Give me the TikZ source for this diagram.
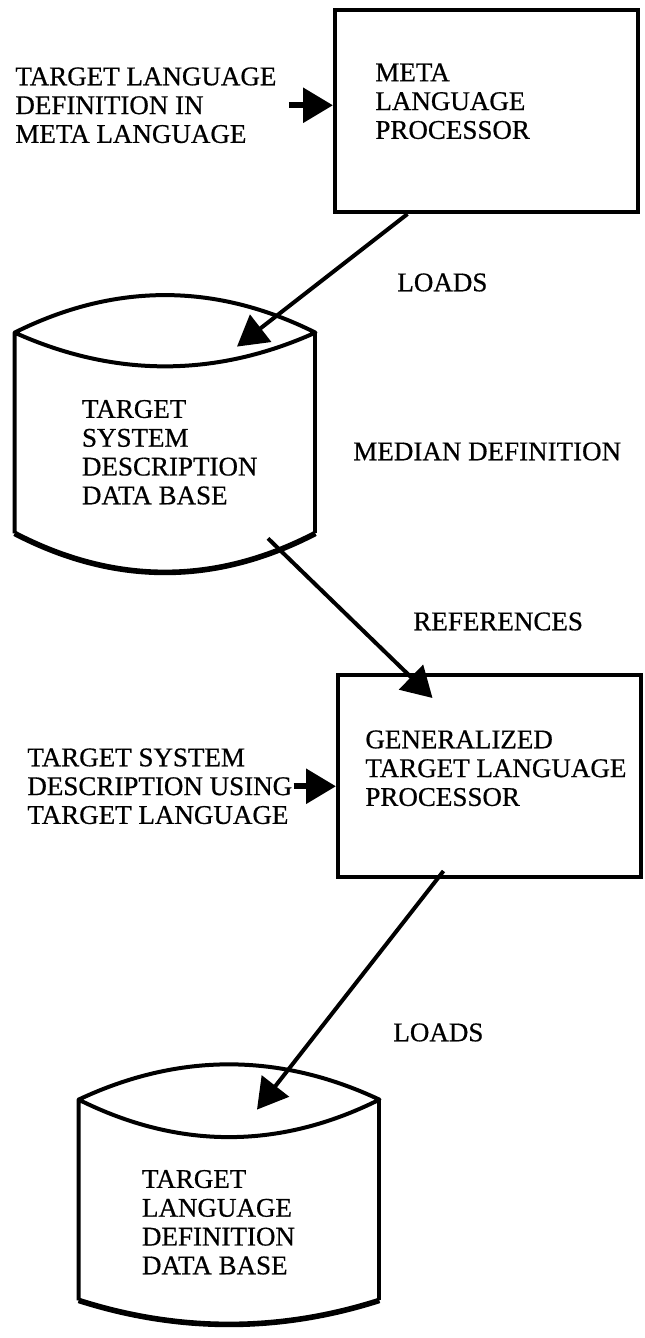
\documentclass[tikz,border=0pt]{standalone}
\usepackage{fontspec}
\setmainfont{Liberation Serif}[FakeBold=0.6]
\usetikzlibrary{arrows.meta, positioning}

\tikzset{
  proc/.style={draw, line width=2pt, minimum width=151.5pt, minimum height=101pt, inner sep=0pt},
  drum/.style={minimum width=150pt, minimum height=100pt, inner sep=0pt},
  txt/.style={align=left, inner sep=0pt, font=\fontsize{13.5}{14.4}\selectfont},
  rim/.style={line width=2pt, line join=round},
  feed/.style={-{Triangle[length=15pt,width=17pt]}, line width=3pt},
  flow/.style={-{Triangle[length=15pt,width=17pt]}, line width=2pt}
}

\begin{document}
\begin{tikzpicture}[x=0.5pt, y=-0.5pt]
\useasboundingbox (0,0) rectangle (644,1338);

% processors
\node [proc] (mlp) at (486.5,111) {};
\node [proc] (gtlp) at (489.5,776) {};
\node [txt, below right=27.5pt and 21pt of mlp.north west] (mlpt) {META\\LANGUAGE\\PROCESSOR};
\node [txt, below right=28.5pt and 14.5pt of gtlp.north west] (gtlpt) {GENERALIZED\\TARGET LANGUAGE\\PROCESSOR};

% data bases
\node [drum] (tsd) at (165,433) {};
\node [drum] (tld) at (229,1200) {};
\node [txt, below right=33.5pt and 33.5pt of tsd.north west] (tsdt) {TARGET\\SYSTEM\\DESCRIPTION\\DATA BASE};
\node [txt, below right=35pt and 31.5pt of tld.north west] (tldt) {TARGET\\LANGUAGE\\DEFINITION\\DATA BASE};

\draw [rim] (tsd.north west) .. controls +(100,-50) and +(-100,-50) .. (tsd.north east)
  .. controls +(-100,45) and +(100,45) .. (tsd.north west) -- (tsd.south west);
\draw [rim] (tsd.north east) -- (tsd.south east);
\draw [rim, line width=2.8pt] (tsd.south west) .. controls +(100,52) and +(-100,52) .. (tsd.south east);

\draw [rim] (tld.north west) .. controls +(100,-47) and +(-100,-47) .. (tld.north east)
  .. controls +(-100,50) and +(100,50) .. (tld.north west) -- (tld.south west);
\draw [rim] (tld.north east) -- (tld.south east);
\draw [rim, line width=2.8pt] (tld.south west) .. controls +(100,32) and +(-100,32) .. (tld.south east);

% inputs and labels
\node [txt, anchor=north west] (in1) at (15,67) {TARGET LANGUAGE\\DEFINITION IN\\META LANGUAGE};
\node [txt, anchor=north west] (in2) at (27,748) {TARGET SYSTEM\\DESCRIPTION USING\\TARGET LANGUAGE};
\node [txt, anchor=north west] (loads1) at (397,273) {LOADS};
\node [txt, anchor=north west] (median) at (353,442) {MEDIAN DEFINITION};
\node [txt, anchor=north west] (refs) at (413,612) {REFERENCES};
\node [txt, anchor=north west] (loads2) at (393,1023) {LOADS};

% connectors
\draw [feed] ([xshift=6pt]in1.east) -- (in1.east -| mlp.west);
\draw [feed] ([xshift=0.5pt]in2.east) -- (in2.east -| gtlp.west);
\draw [flow] ([shift={(-79,0)}]mlp.south) -- ([shift={(72,14)}]tsd.north);
\draw [flow] ([shift={(103,5)}]tsd.south) -- ([shift={(-57,25)}]gtlp.north);
\draw [flow] ([shift={(-46,-8)}]gtlp.south) -- ([shift={(28,10)}]tld.north);
\end{tikzpicture}
\end{document}
